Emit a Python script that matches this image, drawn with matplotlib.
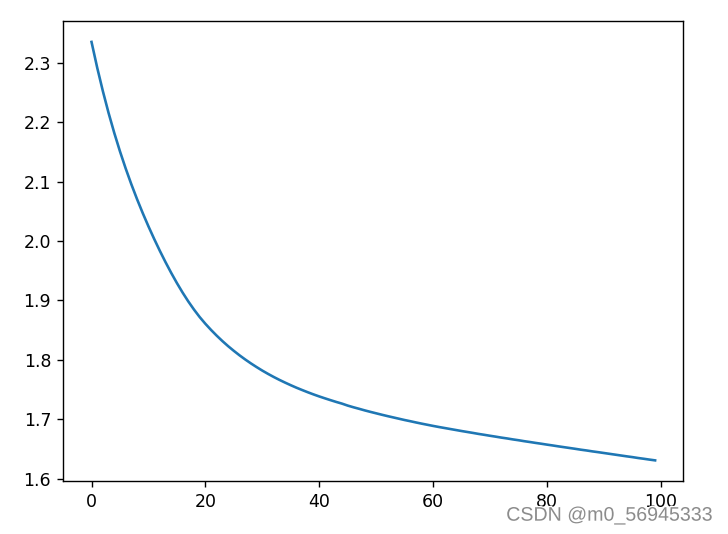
import matplotlib
matplotlib.use("Agg")
import matplotlib.pyplot as plt
import matplotlib.patheffects as pe

# loss values, one per epoch (0..99)
loss = [
    2.3350, 2.2916, 2.2519, 2.2153, 2.1817, 2.1507, 2.1220, 2.0953, 2.0703, 2.0468,
    2.0246, 2.0035, 1.9834, 1.9643, 1.9462, 1.9291, 1.9131, 1.8982, 1.8845, 1.8719,
    1.8606, 1.8502, 1.8405, 1.8314, 1.8229, 1.8150, 1.8075, 1.8005, 1.7939, 1.7877,
    1.7818, 1.7763, 1.7711, 1.7662, 1.7616, 1.7572, 1.7530, 1.7491, 1.7453, 1.7417,
    1.7383, 1.7351, 1.7320, 1.7290, 1.7262, 1.7229, 1.7201, 1.7175, 1.7148, 1.7123,
    1.7099, 1.7075, 1.7052, 1.7030, 1.7008, 1.6986, 1.6966, 1.6945, 1.6925, 1.6906,
    1.6887, 1.6869, 1.6852, 1.6835, 1.6818, 1.6801, 1.6785, 1.6769, 1.6752, 1.6737,
    1.6721, 1.6706, 1.6690, 1.6676, 1.6660, 1.6646, 1.6630, 1.6616, 1.6601, 1.6587,
    1.6572, 1.6558, 1.6543, 1.6529, 1.6515, 1.6501, 1.6486, 1.6473, 1.6458, 1.6445,
    1.6431, 1.6417, 1.6403, 1.6389, 1.6375, 1.6362, 1.6347, 1.6334, 1.6320, 1.6307,
]
epochs = list(range(len(loss)))
watermark = "CSDN @m0_56945333"

fig = plt.figure(figsize=(5.824, 4.272), dpi=125)
ax = fig.add_axes([0.087, 0.0987, 0.8516, 0.862])
ax.plot(epochs, loss)

# watermark in the bottom right corner
fig.text(0.979, 0.035, watermark, ha='right', va='center',
         fontsize=11.3, family='Liberation Sans', color='#8c8c8c',
         path_effects=[pe.withStroke(linewidth=1.5, foreground='white')])

fig.savefig('out.png', dpi=125)
plt.close()
